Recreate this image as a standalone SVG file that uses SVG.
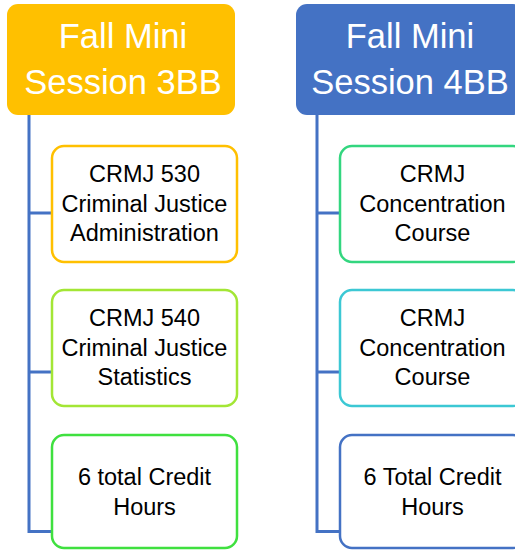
<svg xmlns="http://www.w3.org/2000/svg" width="515" height="550" viewBox="0 0 515 550">
<style>
.hdr{stroke:none}
.hdrt{font-family:"Liberation Sans",Arial,sans-serif;font-size:34.5px;fill:#ffffff;text-anchor:middle}
.box{fill:#ffffff;stroke-width:2.5}
.bt{font-family:"Liberation Sans",Arial,sans-serif;font-size:23.5px;fill:#000000;text-anchor:middle}
.con{stroke:#4472C4;stroke-width:3;fill:none}
</style>
<rect width="515" height="550" fill="#ffffff"/>
<g id="connectors">
<path class="con" d="M29,115 V531.5 H52 M29,213 H52 M29,372 H52"/>
<path class="con" d="M317,115 V531.5 H340 M317,213 H340 M317,372 H340"/>
</g>
<g id="header-3bb">
<rect class="hdr" x="7" y="4" width="228" height="111" rx="11" fill="#FFC000"/>
<text class="hdrt" x="123" y="48">Fall Mini</text>
<text class="hdrt" x="123" y="94">Session 3BB</text>
</g>
<g id="header-4bb">
<rect class="hdr" x="296" y="4" width="228" height="111" rx="11" fill="#4472C4"/>
<text class="hdrt" x="410" y="48">Fall Mini</text>
<text class="hdrt" x="410" y="94">Session 4BB</text>
</g>
<g id="crmj530">
<rect class="box" x="52" y="146" width="185" height="116" rx="12" stroke="#FFC000"/>
<text class="bt" x="144.5" y="182">CRMJ 530</text>
<text class="bt" x="144.5" y="211.5">Criminal Justice</text>
<text class="bt" x="144.5" y="241">Administration</text>
</g>
<g id="crmj540">
<rect class="box" x="52" y="290" width="185" height="116" rx="12" stroke="#A3E635"/>
<text class="bt" x="144.5" y="326">CRMJ 540</text>
<text class="bt" x="144.5" y="355.5">Criminal Justice</text>
<text class="bt" x="144.5" y="385">Statistics</text>
</g>
<g id="credits-left">
<rect class="box" x="52" y="435" width="185" height="113" rx="12" stroke="#3FE03F"/>
<text class="bt" x="144.5" y="485">6 total Credit</text>
<text class="bt" x="144.5" y="515">Hours</text>
</g>
<g id="conc1">
<rect class="box" x="340" y="146" width="185" height="116" rx="12" stroke="#33D67F"/>
<text class="bt" x="432.5" y="182">CRMJ</text>
<text class="bt" x="432.5" y="211.5">Concentration</text>
<text class="bt" x="432.5" y="241">Course</text>
</g>
<g id="conc2">
<rect class="box" x="340" y="290" width="185" height="116" rx="12" stroke="#3CC8D4"/>
<text class="bt" x="432.5" y="326">CRMJ</text>
<text class="bt" x="432.5" y="355.5">Concentration</text>
<text class="bt" x="432.5" y="385">Course</text>
</g>
<g id="credits-right">
<rect class="box" x="340" y="435" width="185" height="113" rx="12" stroke="#4472C4"/>
<text class="bt" x="432.5" y="485">6 Total Credit</text>
<text class="bt" x="432.5" y="515">Hours</text>
</g>
</svg>
